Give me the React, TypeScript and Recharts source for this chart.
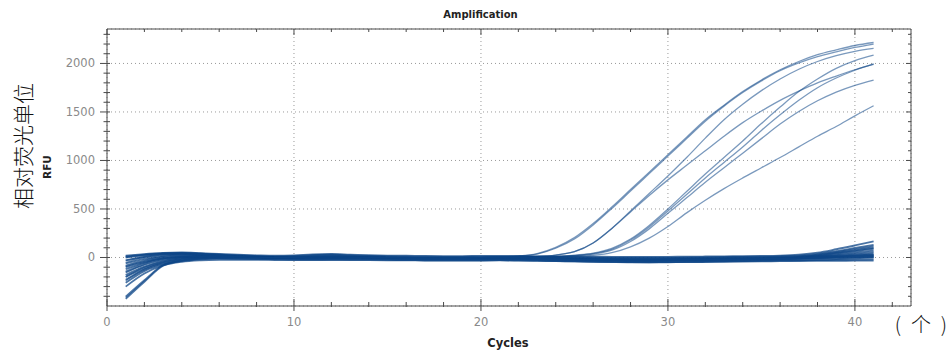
import { CartesianGrid, Line, LineChart, XAxis, YAxis } from "recharts";

// PCR cycle numbers (x)
const CYCLES = [
  1, 2, 3, 4, 5, 6, 7, 8, 9, 10, 11, 12, 13, 14, 15, 16, 17, 18, 19, 20, 21,
  22, 23, 24, 25, 26, 27, 28, 29, 30, 31, 32, 33, 34, 35, 36, 37, 38, 39, 40, 41,
];

// wells that stay at baseline (RFU per cycle)
const BASELINE_RFU: number[][] = [
  [20, 35, 48, 52, 45, 36, 28, 22, 18, 22, 32, 36, 30, 24, 20, 18, 16, 15, 15, 16, 17, 16, 14, 12, 10, 8, 7, 6, 6, 7, 8, 10, 12, 14, 16, 20, 30, 50, 85, 124, 165],
  [10, 30, 45, 48, 40, 30, 22, 16, 12, 15, 24, 28, 22, 16, 12, 10, 8, 7, 7, 8, 9, 8, 6, 4, 2, 0, -1, -2, -2, -1, 0, 2, 4, 6, 8, 12, 20, 38, 66, 98, 130],
  [0, 22, 40, 46, 40, 30, 20, 12, 7, 10, 18, 22, 18, 12, 8, 5, 3, 2, 2, 4, 6, 4, 2, 0, -2, -4, -6, -7, -7, -6, -4, -2, 0, 2, 4, 8, 14, 30, 56, 86, 115],
  [-30, 5, 30, 38, 32, 22, 12, 5, 0, 0, 5, 8, 6, 2, -1, -4, -6, -7, -7, -6, -5, -6, -8, -10, -12, -14, -16, -17, -17, -16, -14, -12, -10, -8, -6, -2, 6, 22, 48, 74, 100],
  [-60, -15, 18, 30, 28, 20, 12, 5, 1, -1, 2, 5, 4, 1, -2, -5, -7, -8, -8, -7, -6, -7, -9, -11, -13, -15, -17, -18, -18, -17, -15, -13, -11, -9, -7, -3, 4, 18, 42, 66, 90],
  [-90, -35, 5, 22, 22, 16, 10, 4, 0, -2, 0, 2, 1, -1, -4, -6, -8, -9, -9, -8, -7, -8, -10, -12, -14, -16, -18, -20, -20, -19, -17, -15, -13, -11, -9, -5, 1, 14, 32, 52, 70],
  [-120, -55, -10, 12, 16, 12, 8, 3, 0, -3, -2, 0, 0, -2, -5, -7, -9, -10, -10, -9, -8, -10, -12, -14, -16, -18, -20, -22, -22, -21, -19, -17, -15, -13, -11, -7, -2, 10, 25, 40, 55],
  [-150, -75, -25, 2, 10, 9, 6, 2, -1, -4, -4, -2, -2, -4, -6, -8, -10, -11, -11, -10, -9, -11, -13, -15, -18, -20, -22, -24, -24, -23, -21, -19, -17, -15, -13, -9, -4, 6, 17, 28, 40],
  [-180, -95, -40, -8, 4, 5, 4, 1, -2, -5, -6, -4, -4, -5, -7, -9, -11, -12, -12, -11, -10, -12, -14, -17, -20, -22, -24, -26, -26, -25, -23, -21, -19, -17, -15, -11, -6, 2, 12, 21, 30],
  [-200, -110, -50, -15, 0, 3, 2, 0, -3, -6, -7, -6, -6, -7, -8, -10, -12, -13, -13, -12, -11, -13, -16, -19, -22, -25, -27, -29, -29, -28, -26, -24, -22, -20, -18, -14, -9, -3, 5, 12, 20],
  [-230, -125, -60, -22, -5, 0, 0, -1, -4, -7, -8, -7, -7, -8, -9, -11, -13, -14, -14, -13, -12, -14, -17, -20, -24, -27, -30, -32, -32, -31, -29, -27, -25, -23, -21, -18, -14, -9, -3, 3, 10],
  [-260, -140, -72, -36, -18, -12, -12, -12, -15, -18, -19, -18, -18, -19, -20, -22, -24, -25, -25, -24, -23, -25, -28, -32, -36, -40, -43, -45, -45, -44, -42, -40, -37, -34, -31, -28, -25, -21, -16, -8, 0],
  [-300, -165, -82, -45, -30, -25, -24, -24, -26, -28, -28, -27, -27, -28, -29, -30, -31, -32, -32, -31, -30, -32, -35, -38, -41, -44, -47, -49, -49, -48, -46, -44, -41, -38, -35, -32, -30, -28, -25, -22, -20],
  [-100, -45, -8, 5, 2, -6, -12, -16, -19, -22, -22, -20, -21, -23, -25, -27, -29, -30, -30, -29, -28, -30, -33, -36, -40, -43, -46, -48, -49, -49, -48, -46, -44, -42, -40, -38, -36, -35, -34, -33, -32],
  [-425, -250, -85, -35, -14, -6, -3, -1, -4, -7, -8, -7, -7, -8, -9, -11, -13, -14, -14, -13, -12, -14, -17, -20, -23, -26, -29, -31, -31, -30, -28, -26, -23, -20, -17, -14, -10, -6, -2, 2, 5],
  [-405, -235, -78, -30, -10, -3, -1, 0, -2, -5, -6, -5, -5, -6, -8, -10, -12, -13, -13, -12, -11, -13, -16, -19, -22, -24, -27, -29, -29, -28, -26, -24, -21, -18, -15, -11, -6, 0, 8, 16, 25],
];

// wells with amplification
const AMPLIFIED_RFU: number[][] = [
  [-50, 0, 30, 35, 28, 18, 10, 4, 0, 3, 12, 16, 10, 4, 0, -2, -4, -4, -3, -1, 5, 14, 40, 105, 205, 350, 520, 700, 880, 1060, 1240, 1420, 1570, 1710, 1830, 1935, 2020, 2090, 2140, 2185, 2216],
  [-140, -60, -10, 12, 15, 12, 8, 3, 0, 0, 4, 6, 4, 1, -2, -4, -6, -6, -5, -3, 3, 11, 34, 95, 190, 335, 505, 685, 865, 1045, 1225, 1405, 1560, 1700, 1820, 1925, 2005, 2070, 2120, 2165, 2200],
  [-200, -100, -35, 0, 8, 8, 5, 2, -1, -2, 2, 5, 3, 0, -3, -5, -7, -7, -6, -4, 0, 2, 8, 25, 60, 150, 300, 480, 660, 840, 1030, 1230, 1420, 1580, 1720, 1840, 1940, 2020, 2080, 2125, 2155],
  [5, 25, 40, 42, 34, 22, 12, 4, 0, 2, 10, 14, 8, 2, -1, -3, -5, -5, -4, -2, 0, 2, 8, 25, 60, 150, 300, 470, 640, 800, 950, 1100, 1250, 1390, 1510, 1620, 1715, 1800, 1870, 1935, 1990],
  [-80, -25, 10, 25, 24, 16, 9, 3, -1, -2, 3, 6, 4, 0, -3, -5, -7, -7, -6, -4, -2, 0, 3, 10, 25, 45, 95, 190, 330, 500, 680, 860, 1030, 1200, 1380, 1550, 1710, 1840, 1950, 2030, 2086],
  [-240, -120, -50, -15, 0, 3, 2, 0, -3, -5, -3, 0, 0, -2, -4, -6, -8, -8, -7, -5, -3, -1, 2, 8, 20, 40, 85, 180, 315, 480, 650, 820, 980, 1140, 1310, 1470, 1620, 1750, 1850, 1930, 1995],
  [-160, -70, -20, 6, 12, 10, 6, 2, -1, -3, 0, 3, 2, -1, -4, -6, -8, -8, -7, -5, -4, -2, 1, 6, 16, 34, 75, 165, 295, 455, 615, 775, 925, 1075, 1225, 1375, 1505, 1615, 1705, 1775, 1829],
  [-30, 10, 35, 40, 32, 20, 10, 3, -1, 1, 8, 12, 7, 2, -1, -3, -5, -5, -4, -2, -4, -3, 0, 4, 10, 22, 50, 110, 200, 320, 460, 590, 710, 820, 925, 1030, 1140, 1250, 1350, 1460, 1564],
];

const X_TICKS = [0, 2, 4, 6, 8, 10, 12, 14, 16, 18, 20, 22, 24, 26, 28, 30, 32, 34, 36, 38, 40, 42];
const Y_TICKS = [
  -400, -300, -200, -100, 0, 100, 200, 300, 400, 500, 600, 700, 800, 900, 1000, 1100, 1200, 1300,
  1400, 1500, 1600, 1700, 1800, 1900, 2000, 2100, 2200, 2300,
];
const X_GRID = [10, 20, 30, 40];
const Y_GRID = [0, 500, 1000, 1500, 2000];
const X_DOMAIN: [number, number] = [0, 43];
const Y_DOMAIN: [number, number] = [-500, 2355];

const WELLS = [...BASELINE_RFU, ...AMPLIFIED_RFU];
const rows = CYCLES.map((cycle, i) => {
  const row: Record<string, number> = { cycle };
  WELLS.forEach((w, k) => {
    row[`w${k}`] = w[i];
  });
  return row;
});

const AXIS = "#4a4a4a";
const LABEL = "#8a8a8a";
const CURVE = "#0d4687";
const TICK_FONT = { fontFamily: "DejaVu Sans", fontSize: 11.5, fill: LABEL } as const;

function BottomTick({ x, y, payload }: any) {
  const major = payload.value % 10 === 0;
  return (
    <g>
      <line x1={x} x2={x} y1={y - (major ? 7 : 4)} y2={y + (major ? 5 : 1)} stroke={AXIS} />
      {major ? (
        <text x={x} y={y + 20} textAnchor="middle" {...TICK_FONT}>
          {payload.value}
        </text>
      ) : null}
    </g>
  );
}

function LeftTick({ x, y, payload }: any) {
  const major = payload.value % 500 === 0;
  return (
    <g>
      <line x1={x - (major ? 7 : 3.5)} x2={x + 3} y1={y} y2={y} stroke={AXIS} />
      {major ? (
        <text x={x - 12} y={y + 4} textAnchor="end" {...TICK_FONT}>
          {payload.value}
        </text>
      ) : null}
    </g>
  );
}

function TopTick({ x, y, payload }: any) {
  const major = payload.value % 10 === 0;
  return <line x1={x} x2={x} y1={y} y2={y + (major ? 6 : 3)} stroke={AXIS} />;
}

function RightTick({ x, y, payload }: any) {
  const major = payload.value % 500 === 0;
  return <line x1={x - (major ? 5 : 3)} x2={x} y1={y} y2={y} stroke={AXIS} />;
}

const cjk = (left: number, text: string) => (
  <div
    style={{
      position: "absolute",
      left,
      top: 323,
      transform: "translate(-50%, -50%)",
      font: "20px 'Noto Sans CJK SC'",
      fontWeight: 300,
      color: "#111",
    }}
  >
    {text}
  </div>
);

export default function App() {
  return (
    <div style={{ position: "absolute", left: 0, top: 0, width: 951, height: 355, background: "#fff" }}>
      <LineChart width={951} height={355} data={rows} margin={{ top: 19, right: 30, bottom: 19, left: 57 }}>
        <XAxis xAxisId="g" type="number" dataKey="cycle" domain={X_DOMAIN} ticks={X_GRID} hide allowDataOverflow />
        <YAxis yAxisId="g" type="number" domain={Y_DOMAIN} ticks={Y_GRID} hide allowDataOverflow />
        <CartesianGrid xAxisId="g" yAxisId="g" stroke="#9a9a9a" strokeDasharray="1 3" />

        <XAxis
          type="number"
          dataKey="cycle"
          domain={X_DOMAIN}
          ticks={X_TICKS}
          interval={0}
          allowDataOverflow
          height={30}
          axisLine={{ stroke: AXIS }}
          tickLine={false}
          tickSize={0}
          tickMargin={0}
          tick={<BottomTick />}
        />
        <XAxis
          xAxisId="top"
          orientation="top"
          type="number"
          dataKey="cycle"
          domain={X_DOMAIN}
          ticks={X_TICKS}
          interval={0}
          allowDataOverflow
          height={10}
          axisLine={{ stroke: AXIS }}
          tickLine={false}
          tickSize={0}
          tickMargin={0}
          tick={<TopTick />}
        />
        <YAxis
          type="number"
          domain={Y_DOMAIN}
          ticks={Y_TICKS}
          interval={0}
          allowDataOverflow
          width={50}
          axisLine={{ stroke: AXIS }}
          tickLine={false}
          tickSize={0}
          tickMargin={0}
          tick={<LeftTick />}
        />
        <YAxis
          yAxisId="right"
          orientation="right"
          type="number"
          domain={Y_DOMAIN}
          ticks={Y_TICKS}
          interval={0}
          allowDataOverflow
          width={10}
          axisLine={{ stroke: AXIS }}
          tickLine={false}
          tickSize={0}
          tickMargin={0}
          tick={<RightTick />}
        />

        {WELLS.map((_, k) => {
          const amplified = k >= BASELINE_RFU.length;
          return (
            <Line
              key={k}
              type="monotone"
              dataKey={`w${k}`}
              stroke={CURVE}
              strokeOpacity={amplified ? 0.55 : 0.75}
              strokeWidth={amplified ? 1.3 : 1.8}
              dot={false}
              activeDot={false}
              isAnimationActive={false}
            />
          );
        })}
      </LineChart>

      <div
        style={{
          position: "absolute",
          left: 0,
          top: 9,
          width: 951,
          textAlign: "center",
          paddingLeft: 10,
          boxSizing: "border-box",
          font: "bold 10px 'DejaVu Sans'",
          color: "#222",
        }}
      >
        Amplification
      </div>
      <div
        style={{
          position: "absolute",
          left: 508,
          top: 343,
          transform: "translate(-50%, -50%)",
          font: "bold 11.5px 'DejaVu Sans'",
          color: "#222",
        }}
      >
        Cycles
      </div>
      <div
        style={{
          position: "absolute",
          left: 47,
          top: 167,
          transform: "translate(-50%, -50%) rotate(-90deg)",
          font: "bold 10.5px 'DejaVu Sans'",
          color: "#222",
          whiteSpace: "nowrap",
        }}
      >
        RFU
      </div>
      <div
        style={{
          position: "absolute",
          left: 22,
          top: 146,
          transform: "translate(-50%, -50%) rotate(-90deg)",
          font: "21px 'Noto Sans CJK SC'",
          fontWeight: 300,
          color: "#111",
          whiteSpace: "nowrap",
        }}
      >
        相对荧光单位
      </div>
      {cjk(898, "(")}
      {cjk(921, "个")}
      {cjk(944, ")")}
    </div>
  );
}
